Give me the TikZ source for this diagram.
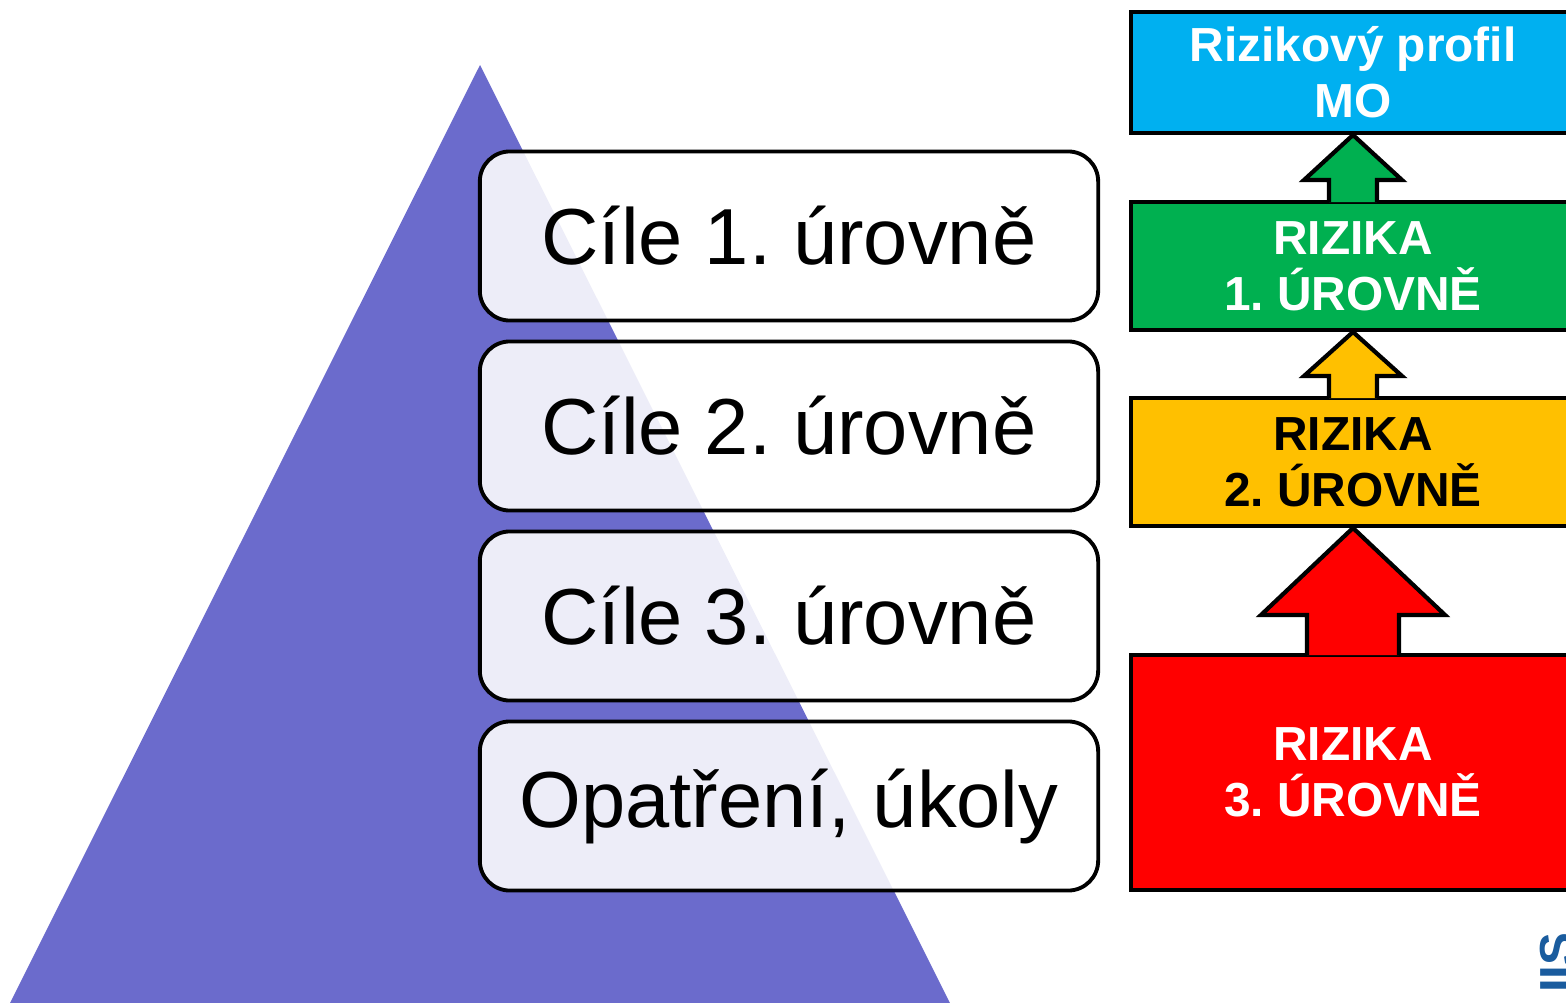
\documentclass[tikz,border=0pt]{standalone}
\usepackage{fontspec}
\setmainfont{Liberation Sans}
\usetikzlibrary{calc, positioning}
\frenchspacing

\definecolor{pyramid}{HTML}{6B6BCC}
\definecolor{riskblue}{HTML}{00B0F0}
\definecolor{riskgreen}{HTML}{00B050}
\definecolor{riskyellow}{HTML}{FFC000}
\definecolor{riskred}{HTML}{FF0000}
\definecolor{logoblue}{HTML}{1A5C9E}

\begin{document}
\begin{tikzpicture}[x=0.01cm, y=-0.01cm,
    goal/.style={draw=black, line width=1.1pt, rounded corners=0.3cm, fill=white, fill opacity=0.88, text opacity=1,
                 minimum width=6.18cm, minimum height=1.69cm, font=\fontsize{22.6}{27}\selectfont},
    risk/.style={draw=black, line width=1.1pt, minimum width=4.44cm, align=center,
                 font=\bfseries\fontsize{13.6}{15.9}\selectfont},
    riskarrow/.style={draw=black, line width=1.2pt, line join=miter}]
                    \useasboundingbox (0, 0) rectangle (1566, 1003);
                    
                    % pyramid
                    \coordinate (apex) at (480, 65);
                    \fill[pyramid] (apex) -- (5, 1013) -- (955, 1013) -- cycle;
                    
                    % goals
                    \node[goal] (goal1) at (789, 236) {Cíle 1. úrovně};
                    \node[goal] (goal2) at (789, 426) {Cíle 2. úrovně};
                    \node[goal] (goal3) at (789, 616) {Cíle 3. úrovně};
                    \node[goal] (tasks) at (789, 806) {Opatření, úkoly};
                    
                    % risks
                    \node[risk, fill=riskblue, text=white, minimum height=1.21cm] (profile) at (1353, 72.5) {Rizikový profil\\MO};
                    \node[risk, fill=riskgreen, text=white, minimum height=1.28cm] (lvl1) at (1353, 266) {RIZIKA\\1. ÚROVNĚ};
                    \node[risk, fill=riskyellow, text=black, minimum height=1.28cm] (lvl2) at (1353, 462) {RIZIKA\\2. ÚROVNĚ};
                    \node[risk, fill=riskred, text=white, minimum height=2.35cm] (lvl3) at (1353, 772.5) {RIZIKA\\3. ÚROVNĚ};
                    
                    % arrows
                    \path[riskarrow, fill=riskgreen] ($(lvl1.north)+(-24, 2)$) -- ++(0, -22) -- ++(-25, 0) -- (profile.south)
                        -- ($(lvl1.north)+(49, -20)$) -- ++(-25, 0) -- ++(0, 22);
                    \path[riskarrow, fill=riskyellow] ($(lvl2.north)+(-24, 2)$) -- ++(0, -22) -- ++(-25, 0) -- (lvl1.south)
                        -- ($(lvl2.north)+(49, -20)$) -- ++(-25, 0) -- ++(0, 22);
                    \path[riskarrow, fill=riskred] ($(lvl3.north)+(-46, 2)$) -- ++(0, -40) -- ++(-46, 0) -- (lvl2.south)
                        -- ($(lvl3.north)+(92, -38)$) -- ++(-46, 0) -- ++(0, 40);
                    
                    % logo
                    \node[rotate=90, anchor=east, text=logoblue, inner sep=0pt, font=\bfseries\fontsize{14}{14}\selectfont] (logo) at (1558, 932) {IIS};
                \end{tikzpicture}
\end{document}
